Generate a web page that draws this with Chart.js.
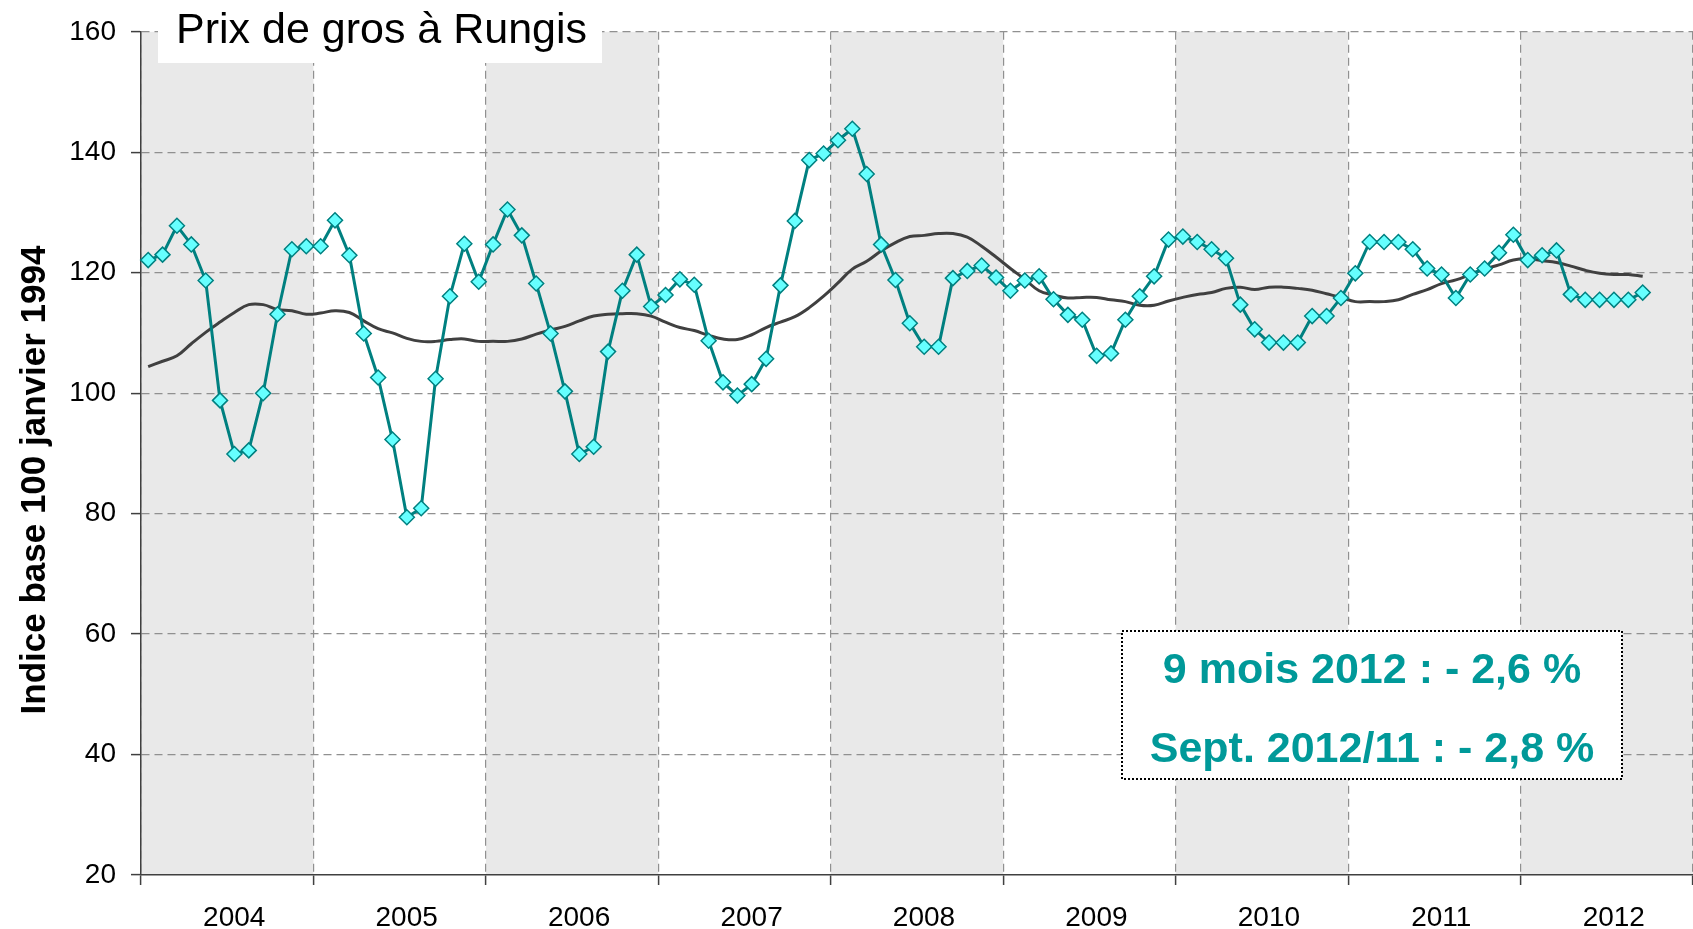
<!DOCTYPE html>
<html lang="fr">
<head>
<meta charset="utf-8">
<title>Prix de gros à Rungis</title>
<script src="https://cdn.jsdelivr.net/npm/chart.js@4.4.1/dist/chart.umd.min.js"></script>
<style>
  html, body { margin: 0; padding: 0; background: #fff; overflow: hidden; }
  #wrap { width: 1693px; height: 929px; }
  canvas { display: block; }
</style>
</head>
<body>
<div id="wrap"><canvas id="chart" width="1693" height="929"></canvas></div>
<script>
// Année de chaque bande (une catégorie par année, 12 mois chacune)
const years = ['2004', '2005', '2006', '2007', '2008', '2009', '2010', '2011', '2012'];
const monthNames = ['janv.', 'févr.', 'mars', 'avr.', 'mai', 'juin', 'juil.', 'août', 'sept.', 'oct.', 'nov.', 'déc.'];
const shadedYears = ['2004', '2006', '2008', '2010', '2012'];

// Indice mensuel, janv. 2004 -> sept. 2012
const prix = [
  122.1, 123.0, 127.8, 124.7, 118.7, 98.8, 89.9, 90.5, 100.0, 113.1, 123.9, 124.4,
  124.4, 128.7, 122.9, 109.9, 102.6, 92.3, 79.4, 80.9, 102.4, 116.1, 124.8, 118.5,
  124.7, 130.5, 126.2, 118.2, 109.9, 100.3, 89.9, 91.1, 106.9, 117.0, 123.0, 114.4,
  116.3, 118.9, 118.0, 108.7, 101.8, 99.6, 101.5, 105.7, 117.9, 128.6, 138.7, 139.8,
  142.0, 143.9, 136.4, 124.7, 118.8, 111.6, 107.7, 107.7, 119.1, 120.3, 121.2, 119.2,
  117.0, 118.7, 119.4, 115.6, 113.0, 112.2, 106.2, 106.6, 112.2, 116.1, 119.4, 125.5,
  126.0, 125.1, 123.9, 122.4, 114.7, 110.6, 108.4, 108.4, 108.4, 112.8, 112.8, 115.8,
  119.9, 125.1, 125.1, 125.1, 123.9, 120.7, 119.7, 115.8, 119.7, 120.7, 123.3, 126.3,
  122.1, 122.9, 123.7, 116.4, 115.5, 115.5, 115.5, 115.5, 116.7
];

// Moyenne mobile (courbe lissée)
const moyenne = [
  104.4, 105.3, 106.2, 108.2, 110.1, 111.8, 113.4, 114.7, 114.7, 113.9, 113.7, 113.1,
  113.3, 113.7, 113.4, 112.0, 110.7, 110.0, 109.1, 108.6, 108.6, 108.9, 109.0, 108.6,
  108.6, 108.6, 109.0, 109.8, 110.5, 111.1, 112.0, 112.8, 113.1, 113.2, 113.2, 112.8,
  111.8, 110.9, 110.4, 109.6, 109.0, 108.9, 109.7, 110.9, 111.8, 112.7, 114.2, 116.1,
  118.3, 120.6, 121.9, 123.6, 125.0, 126.0, 126.2, 126.5, 126.5, 125.9, 124.4, 122.6,
  120.7, 118.9, 117.0, 116.3, 115.8, 115.9, 115.9, 115.5, 115.2, 114.6, 114.6, 115.3,
  115.9, 116.4, 116.7, 117.4, 117.6, 117.2, 117.6, 117.6, 117.4, 117.1, 116.5, 115.9,
  115.2, 115.2, 115.2, 115.5, 116.4, 117.2, 118.2, 118.8, 119.7, 120.6, 121.3, 122.1,
  122.3, 122.0, 121.7, 121.1, 120.4, 119.9, 119.7, 119.7, 119.4
];

const yMin = 20, yMax = 160, yStep = 20;
const titre = 'Prix de gros à Rungis';
const titreAxeY = 'Indice base 100 janvier 1994';
const encadre = ['9 mois 2012 : - 2,6 %', 'Sept. 2012/11 : - 2,8 %'];

const months = years.flatMap(y => monthNames.map(m => m + ' ' + y));

const FONT = '"Liberation Sans", Arial, sans-serif';
const GRID = '#909090';
const AXIS = '#404040';

// bandes grises une année sur deux, sous la grille
const yearBands = {
  id: 'yearBands',
  beforeDraw(chart) {
    const { ctx, chartArea: a } = chart;
    const sx = chart.scales.years;
    const half = (sx.getPixelForValue(1) - sx.getPixelForValue(0)) / 2;
    ctx.save();
    ctx.fillStyle = '#E9E9E9';
    shadedYears.forEach(y => {
      const c = sx.getPixelForValue(years.indexOf(y));
      ctx.fillRect(c - half, a.top, half * 2, a.bottom - a.top);
    });
    ctx.restore();
  }
};

// titre, titre d'axe et encadré
const overlays = {
  id: 'overlays',
  afterDraw(chart) {
    const { ctx } = chart;
    ctx.save();

    ctx.fillStyle = '#fff';
    ctx.fillRect(158, 0, 444, 63);
    ctx.fillStyle = '#000';
    ctx.font = '43px ' + FONT;
    ctx.textAlign = 'left';
    ctx.textBaseline = 'alphabetic';
    ctx.fillText(titre, 176, 43);

    ctx.save();
    ctx.translate(45, 480);
    ctx.rotate(-Math.PI / 2);
    ctx.font = 'bold 35px ' + FONT;
    ctx.textAlign = 'center';
    ctx.fillText(titreAxeY, 0, 0);
    ctx.restore();

    ctx.fillStyle = '#fff';
    ctx.fillRect(1122, 631, 500, 148);
    ctx.setLineDash([2, 2]);
    ctx.lineWidth = 2;
    ctx.strokeStyle = '#000';
    ctx.strokeRect(1122, 631, 500, 148);
    ctx.setLineDash([]);
    ctx.fillStyle = '#009999';
    ctx.font = 'bold 43px ' + FONT;
    ctx.textAlign = 'center';
    ctx.fillText(encadre[0], 1372, 683);
    ctx.fillText(encadre[1], 1372, 762);

    ctx.restore();
  }
};

new Chart(document.getElementById('chart'), {
  type: 'line',
  data: {
    labels: months,
    datasets: [
      {
        label: 'Prix de gros',
        data: prix,
        order: 0,
        borderColor: '#008080',
        borderWidth: 3,
        tension: 0,
        pointStyle: 'rectRot',
        pointRadius: 7.5,
        pointBackgroundColor: '#66FFFF',
        pointBorderColor: '#008080',
        pointBorderWidth: 1.5
      },
      {
        label: 'Moyenne mobile',
        data: moyenne,
        order: 1,
        borderColor: '#404040',
        borderWidth: 3,
        tension: 0.4,
        pointRadius: 0
      }
    ]
  },
  options: {
    responsive: false,
    animation: false,
    devicePixelRatio: 1,
    layout: { autoPadding: false, padding: { top: 29, right: 0, bottom: 0, left: 0 } },
    plugins: {
      legend: { display: false },
      tooltip: { enabled: false },
      title: { display: false }
    },
    scales: {
      x: {
        type: 'category',
        display: false,
        offset: true
      },
      years: {
        type: 'category',
        labels: years,
        position: 'bottom',
        offset: true,
        afterFit(s) { s.height = 54; },
        grid: {
          offset: true,
          color: GRID,
          lineWidth: 1.2,
          tickColor: AXIS,
          tickLength: 10,
          tickWidth: 1.5,
          tickBorderDash: []
        },
        border: { display: true, color: AXIS, width: 1.5, dash: [8, 5] },
        ticks: {
          color: '#000',
          font: { family: FONT, size: 28 },
          padding: 16,
          labelOffset: 7,
          maxRotation: 0,
          autoSkip: false
        }
      },
      y: {
        min: yMin,
        max: yMax,
        afterFit(s) { s.width = 141; },
        grid: {
          color: ctx => (ctx.tick && ctx.tick.value === yMin ? 'rgba(0,0,0,0)' : GRID),
          lineWidth: 1.2,
          tickColor: AXIS,
          tickLength: 10,
          tickWidth: 1.5,
          tickBorderDash: []
        },
        border: { display: true, color: AXIS, width: 1.5, dash: [8, 5] },
        ticks: {
          stepSize: yStep,
          color: '#000',
          font: { family: FONT, size: 28 },
          padding: 15
        }
      }
    }
  },
  plugins: [yearBands, overlays]
});
</script>
</body>
</html>
